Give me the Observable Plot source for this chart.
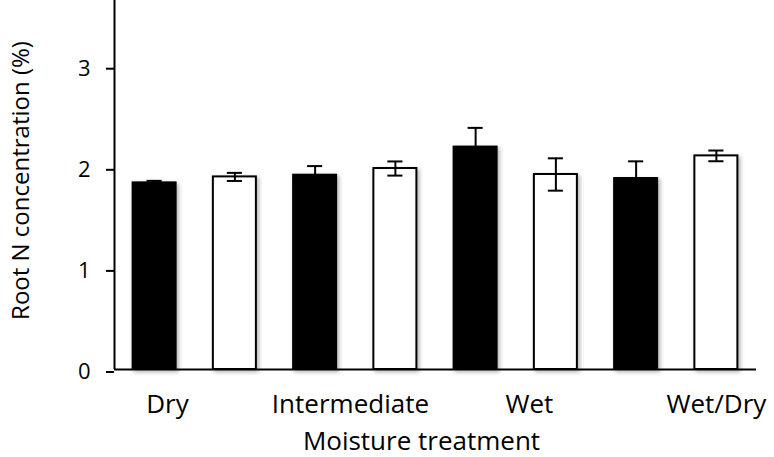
<!DOCTYPE html>
<html>
<head>
<meta charset="utf-8">
<script src="https://cdn.jsdelivr.net/npm/d3@7"></script>
<script src="https://cdn.jsdelivr.net/npm/@observablehq/plot@0.6"></script>
<style>
  html, body { margin: 0; padding: 0; background: #fff; }
  #chart { width: 774px; height: 457px; }
</style>
</head>
<body>
<div id="chart"></div>
<script>
// Categories (x tick labels) and the two series per category
const categories = ["Dry", "Intermediate", "Wet", "Wet/Dry"];
const filledValues = [1.846, 1.922, 2.20, 1.889];
const filledErrors = [0.02, 0.09, 0.19, 0.17];
const openValues = [1.905, 1.988, 1.929, 2.113];
const openErrors = [0.04, 0.07, 0.16, 0.053];
// Positions (in bar-slot units) where the original's category labels sit
const labelPositions = [0.66, 2.94, 5.17, 7.50];
const yTicks = [0, 1, 2, 3];

const rows = categories.flatMap((c, ci) => [
  {cat: c, series: "filled", slot: 2 * ci, v: filledValues[ci], e: filledErrors[ci]},
  {cat: c, series: "open", slot: 2 * ci + 1, v: openValues[ci], e: openErrors[ci]}
]);

const half = 0.268, cap = 0.094;

const chart = Plot.plot({
  width: 774,
  height: 457,
  marginTop: 0,
  marginLeft: 114,
  marginRight: 18,
  marginBottom: 88,
  style: {fontFamily: "'Open Sans', sans-serif", color: "#000", background: "#fff"},
  x: {domain: [0, rows.length], axis: null},
  y: {domain: [0, 3.65], axis: null},
  marks: [
    Plot.rectY(rows, {
      x1: d => d.slot + 0.5 - half,
      x2: d => d.slot + 0.5 + half,
      y1: 0,
      y2: "v",
      fill: d => d.series === "filled" ? "#000" : "#fff",
      stroke: "#000",
      strokeWidth: 2
    }),
    Plot.ruleX(rows, {x: d => d.slot + 0.5, y1: d => d.v - d.e, y2: d => d.v + d.e, stroke: "#000", strokeWidth: 2}),
    Plot.ruleY(rows, {y: d => d.v + d.e, x1: d => d.slot + 0.5 - cap, x2: d => d.slot + 0.5 + cap, stroke: "#000", strokeWidth: 2}),
    Plot.ruleY(rows, {y: d => d.v - d.e, x1: d => d.slot + 0.5 - cap, x2: d => d.slot + 0.5 + cap, stroke: "#000", strokeWidth: 2}),
    Plot.axisY({ticks: yTicks, tickSize: 8, tickPadding: 16, fontSize: 22, dy: 2.5, label: null, strokeWidth: 2, tickFormat: d => String(d)}),
    Plot.ruleX([0], {stroke: "#000", strokeWidth: 2}),
    Plot.ruleY([0], {stroke: "#000", strokeWidth: 2}),
    Plot.axisX({ticks: labelPositions, tickSize: 0, tickPadding: 25, fontSize: 26, label: null,
      tickFormat: d => categories[labelPositions.indexOf(d)]}),
    Plot.text(["Moisture treatment"], {text: d => d, frameAnchor: "bottom", textAnchor: "middle", lineAnchor: "bottom", dy: 80, dx: -14, fontSize: 26, fill: "#000"}),
    Plot.text(["Root N concentration (%)"], {text: d => d, frameAnchor: "left", textAnchor: "middle", lineAnchor: "bottom", rotate: -90, dx: -86, dy: -4.5, fontSize: 24, fill: "#000"})
  ]
});
const rg = chart.querySelector('g[aria-label="rect"]');
if (rg) rg.style.filter = "drop-shadow(2px 2px 2px rgba(0,0,0,0.3))";
document.getElementById("chart").appendChild(chart);
</script>
</body>
</html>
